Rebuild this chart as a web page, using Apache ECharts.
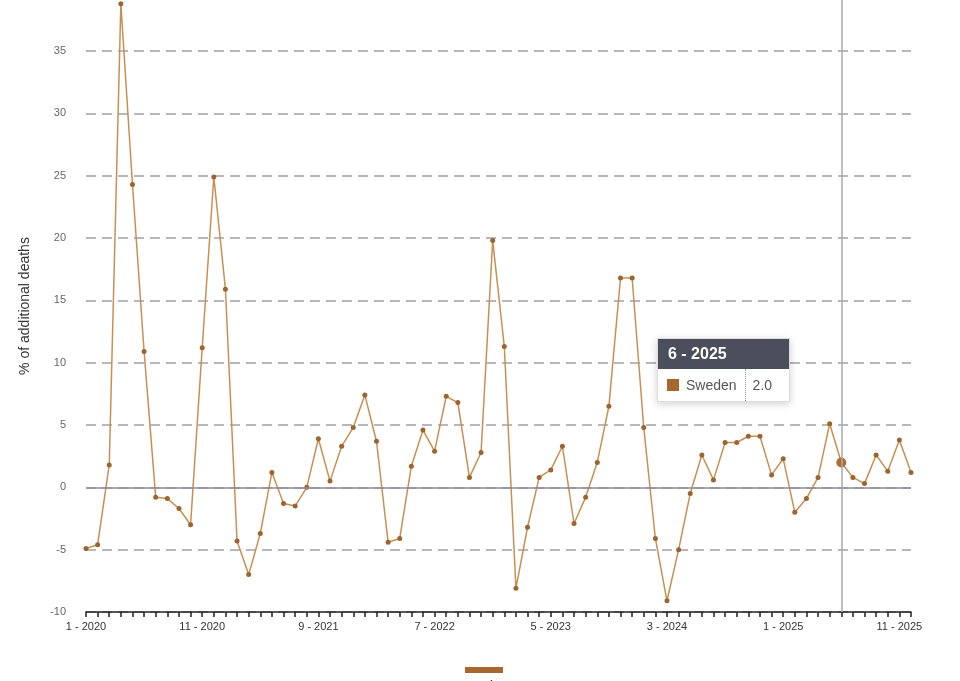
<!DOCTYPE html>
<html>
<head>
<meta charset="utf-8">
<script src="https://cdn.jsdelivr.net/npm/echarts@6/dist/echarts.min.js"></script>
<style>
  html, body { margin: 0; padding: 0; background: #fff; overflow: hidden; }
  #chart { width: 960px; height: 681px; }
</style>
</head>
<body>
<div id="chart"></div>
<script>
// Excess deaths per month, Sweden (% of additional deaths)
const seriesName = 'Sweden';
const years = [2020, 2021, 2022, 2023, 2024, 2025];

// month labels "M - YYYY"
const months = [];
years.forEach(y => {
    for (let m = 1; m <= 12; m++) months.push(m + ' - ' + y);
});

const values2020 = [-4.9, -4.6, 1.8, 38.8, 24.3, 10.9, -0.8, -0.9, -1.7, -3.0, 11.2, 24.9];
const values2021 = [15.9, -4.3, -7.0, -3.7, 1.2, -1.3, -1.5, 0.0, 3.9, 0.5, 3.3, 4.8];
const values2022 = [7.4, 3.7, -4.4, -4.1, 1.7, 4.6, 2.9, 7.3, 6.8, 0.8, 2.8, 19.8];
const values2023 = [11.3, -8.1, -3.2, 0.8, 1.4, 3.3, -2.9, -0.8, 2.0, 6.5, 16.8, 16.8];
const values2024 = [4.8, -4.1, -9.1, -5.0, -0.5, 2.6, 0.6, 3.6, 3.6, 4.1, 4.1, 1.0];
const values2025 = [2.3, -2.0, -0.9, 0.8, 5.1, 2.0, 0.8, 0.3, 2.6, 1.3, 3.8, 1.2];
const values = [].concat(values2020, values2021, values2022, values2023, values2024, values2025);

// y ticks (the top of the plot is cut just above the 2020 peak)
const yMin = -10;
const yMax = 39.1;
const yStep = 5;

// month shown in the tooltip
const tipIndex = 65;

// one colour per split line, -10 ... 35 and then the cut-off top edge (hidden)
const gridColors = [];
for (let v = yMin; v < yMax; v += yStep) gridColors.push('#a0a0ad');
gridColors.push('rgba(0,0,0,0)');

const chartDom = document.getElementById('chart');
const myChart = echarts.init(chartDom, null, { renderer: 'canvas' });

const option = {
    animation: false,
    textStyle: { fontFamily: 'Liberation Sans, Arial, sans-serif' },
    grid: { left: 86, right: 49, top: 0, bottom: 69, containLabel: false },
    tooltip: {
        trigger: 'axis',
        alwaysShowContent: true,
        padding: 0,
        borderWidth: 1,
        borderColor: '#dcdcdc',
        backgroundColor: '#fff',
        extraCssText: 'box-shadow: 0 2px 8px rgba(0,0,0,0.18); border-radius: 0;',
        position: function() { return [657, 338]; },
        axisPointer: {
            type: 'line',
            lineStyle: { color: '#a8a8ae', width: 1.5, type: 'solid' }
        },
        formatter: function(params) {
            const p = params[0];
            return '<div style="font-family: Liberation Sans, Arial, sans-serif; width:131px;">' +
                '<div style="background:#4b4e5b; color:#fff; font-weight:bold; font-size:16px; padding:6px 10px; line-height:18px;">' + p.name + '</div>' +
                '<div style="display:flex; align-items:center; height:32px; font-size:14px; color:#555;">' +
                '<span style="display:inline-block; width:12px; height:12px; background:#a5672e; margin:0 7px 0 9px;"></span>' +
                '<span style="padding-right:8px;">' + seriesName + '</span>' +
                '<span style="border-left:1px dotted #999; height:32px; line-height:32px; padding-left:7px;">' + p.value.toFixed(1) + '</span>' +
                '</div></div>';
        }
    },
    legend: {
        left: 460,
        top: 662,
        itemWidth: 38,
        itemHeight: 6,
        icon: 'rect',
        formatter: function() { return ''; },
        data: [{ name: seriesName, itemStyle: { color: '#a8672d' } }]
    },
    graphic: [{
        type: 'text',
        left: 458,
        top: 680,
        style: { text: seriesName, fill: '#333', font: '14px Liberation Sans, Arial, sans-serif' }
    }],
    xAxis: {
        type: 'category',
        boundaryGap: false,
        data: months,
        axisLine: { onZero: false, lineStyle: { color: '#222', width: 1.5 } },
        axisTick: { interval: 0, length: 5, lineStyle: { color: '#222', width: 1.5 } },
        axisLabel: { interval: 9, color: '#333', fontSize: 11, margin: 9 },
        splitLine: { show: false }
    },
    yAxis: {
        type: 'value',
        min: yMin,
        max: yMax,
        interval: yStep,
        name: '% of additional deaths',
        nameLocation: 'middle',
        nameGap: 54,
        nameTextStyle: { color: '#333', fontSize: 14 },
        axisLine: { show: false },
        axisTick: { show: false },
        axisLabel: { color: '#666', fontSize: 11, margin: 20, showMaxLabel: false },
        splitLine: { lineStyle: { color: gridColors, width: 1.5, type: [10, 6] } }
    },
    series: [{
        name: seriesName,
        type: 'line',
        data: values,
        symbol: 'circle',
        symbolSize: 5,
        showAllSymbol: true,
        lineStyle: { color: '#b5834a', width: 1.5 },
        itemStyle: { color: '#9c6430' },
        emphasis: { scale: 2, focus: 'none' },
        markLine: {
            silent: true,
            symbol: 'none',
            label: { show: false },
            lineStyle: { color: '#8c8c98', width: 1.5, type: 'solid' },
            data: [{ yAxis: 0 }]
        }
    }]
};

myChart.setOption(option, true);
myChart.dispatchAction({ type: 'showTip', seriesIndex: 0, dataIndex: tipIndex });
</script>
</body>
</html>
